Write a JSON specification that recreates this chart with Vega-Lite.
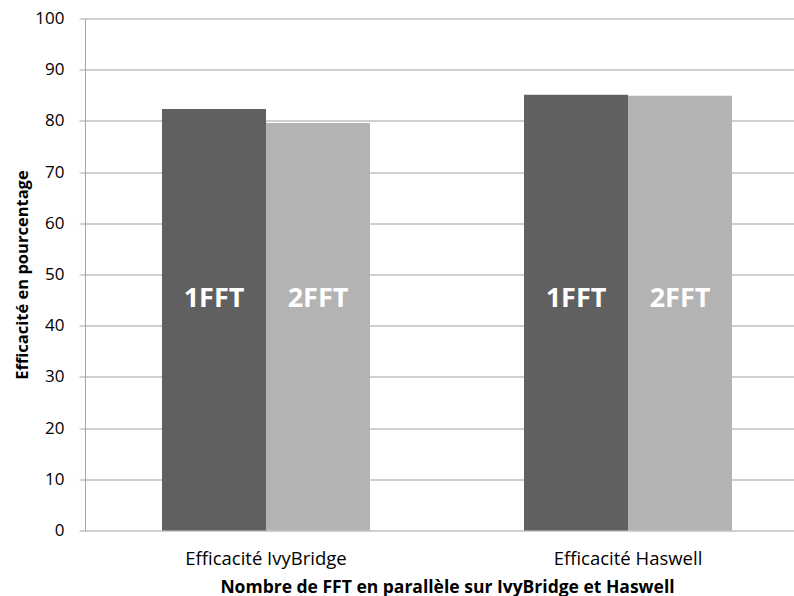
{
  "$schema": "https://vega.github.io/schema/vega-lite/v6.json",
  "autosize": "none",
  "padding": {"left": 85, "top": 18.5, "right": 0, "bottom": 65.5},
  "width": 724,
  "height": 512,
  "background": "white",
  "config": {
    "font": "Open Sans",
    "view": {"stroke": null},
    "axis": {"labelColor": "#000000", "titleColor": "#000000", "labelFont": "Open Sans", "titleFont": "Open Sans"},
    "axisY": {
      "titleFontSize": 16.5,
      "titleFontWeight": "bold",
      "titlePadding": 4,
      "labelFontSize": 17,
      "labelPadding": 15,
      "tickSize": 6,
      "tickCount": 10,
      "tickColor": "#a6a6a6",
      "domainColor": "#a6a6a6",
      "gridColor": "#bfbfbf",
      "gridWidth": 1.3,
      "labelOverlap": false
    },
    "axisX": {
      "titleFontSize": 17.5,
      "titleFontWeight": "bold",
      "titlePadding": 10,
      "labelFontSize": 18.5,
      "labelAngle": 0,
      "labelPadding": 19,
      "ticks": false,
      "domain": false
    }
  },
  "data": {
    "values": [
      {"cpu": "Efficacité IvyBridge", "fft": "1FFT", "value": 82.3},
      {"cpu": "Efficacité IvyBridge", "fft": "2FFT", "value": 79.6},
      {"cpu": "Efficacité Haswell", "fft": "1FFT", "value": 85.1},
      {"cpu": "Efficacité Haswell", "fft": "2FFT", "value": 84.9}
    ]
  },
  "encoding": {
    "x": {
      "field": "cpu",
      "type": "nominal",
      "sort": ["Efficacité IvyBridge", "Efficacité Haswell"],
      "scale": {"paddingInner": 0.4254, "paddingOuter": 0.2127},
      "axis": {"title": "Nombre de FFT en parallèle sur IvyBridge et Haswell"}
    },
    "xOffset": {"field": "fft", "type": "nominal", "scale": {"paddingInner": 0, "paddingOuter": 0}}
  },
  "layer": [
    {
      "mark": {"type": "bar"},
      "encoding": {
        "y": {
          "field": "value",
          "type": "quantitative",
          "scale": {"domain": [0, 100], "nice": false},
          "axis": {"title": "Efficacité en pourcentage"}
        },
        "color": {
          "field": "fft",
          "type": "nominal",
          "scale": {"domain": ["1FFT", "2FFT"], "range": ["#606060", "#b3b3b3"]},
          "legend": null
        }
      }
    },
    {
      "mark": {"type": "text", "color": "white", "fontWeight": "bold", "fontSize": 27, "font": "Open Sans", "baseline": "middle"},
      "encoding": {
        "y": {"datum": 45.2, "type": "quantitative", "axis": {"title": "Efficacité en pourcentage"}},
        "text": {"field": "fft"}
      }
    },
    {
      "mark": {"type": "rule", "color": "#a6a6a6", "strokeWidth": 1.3},
      "encoding": {"y": {"datum": 0, "type": "quantitative", "axis": {"title": "Efficacité en pourcentage"}}}
    }
  ]
}
